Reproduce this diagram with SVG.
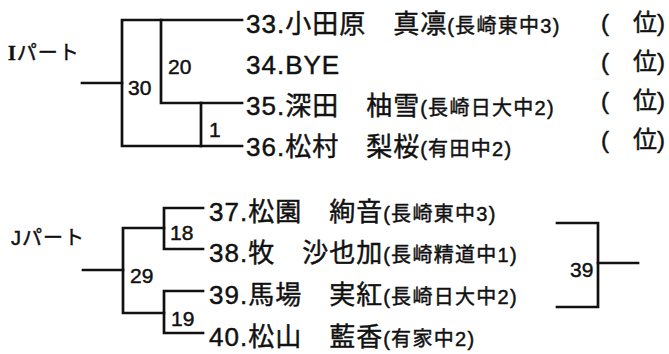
<svg xmlns="http://www.w3.org/2000/svg" width="669" height="354" viewBox="0 0 669 354">
<style>
.ln{fill:none;stroke:#111;stroke-width:2.7;stroke-linecap:square}
.t{font-family:"Liberation Sans","Noto Sans CJK JP",sans-serif;fill:#111;stroke:#111;stroke-width:0.45px}
.nm{font-size:26px;letter-spacing:1px}
.sc{font-size:20px;letter-spacing:1.3px}
.num{font-size:21px}
.part{font-size:20px;letter-spacing:1px}
.rk{font-size:24px}
</style>
<rect width="669" height="354" fill="#fff"/>
<g id="connectors">
<path class="ln" d="M82 83H122"/>
<path class="ln" d="M242 20H122V146H242"/>
<path class="ln" d="M161 20V103H242"/>
<path class="ln" d="M201 103V146"/>
<path class="ln" d="M83 270H123"/>
<path class="ln" d="M164 228H123V313H164"/>
<path class="ln" d="M203 208H164V249H203"/>
<path class="ln" d="M203 291H164V333H203"/>
<path class="ln" d="M557 223H598V307H557"/>
<path class="ln" d="M598 263H638"/>
<text class="t num" x="128" y="95">30</text>
<text class="t num" x="168" y="74">20</text>
<text class="t num" x="209" y="137">1</text>
<text class="t num" x="170" y="240">18</text>
<text class="t num" x="130" y="283">29</text>
<text class="t num" x="171" y="326">19</text>
<text class="t num" x="570" y="277">39</text>
</g>
<g id="part-I"><text class="t part" x="8" y="60"><tspan font-family="Liberation Serif" font-weight="bold">I</tspan>パート</text></g>
<g id="part-J"><text class="t part" x="11" y="245">Jパート</text></g>
<g id="p33"><text class="t nm" x="246" y="33">33.小田原　真凛<tspan class="sc">(長崎東中3)</tspan></text></g>
<g id="p34"><text class="t nm" x="246" y="74">34.BYE</text></g>
<g id="p35"><text class="t nm" x="246" y="115">35.深田　柚雪<tspan class="sc">(長崎日大中2)</tspan></text></g>
<g id="p36"><text class="t nm" x="246" y="156">36.松村　梨桜<tspan class="sc">(有田中2)</tspan></text></g>
<g id="rank"><text class="t rk" x="601" y="31">(　位)</text><text class="t rk" x="601" y="70">(　位)</text><text class="t rk" x="601" y="109">(　位)</text><text class="t rk" x="601" y="148">(　位)</text></g>
<g id="p37"><text class="t nm" x="209" y="221">37.松園　絢音<tspan class="sc">(長崎東中3)</tspan></text></g>
<g id="p38"><text class="t nm" x="209" y="262">38.牧　沙也加<tspan class="sc">(長崎精道中1)</tspan></text></g>
<g id="p39"><text class="t nm" x="209" y="304">39.馬場　実紅<tspan class="sc">(長崎日大中2)</tspan></text></g>
<g id="p40"><text class="t nm" x="209" y="346">40.松山　藍香<tspan class="sc">(有家中2)</tspan></text></g>
</svg>
